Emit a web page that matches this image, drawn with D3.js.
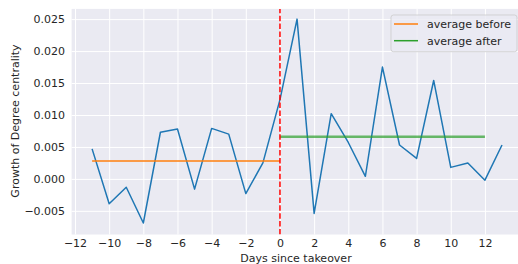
<!DOCTYPE html>
<html>
<head>
<script src="https://cdn.jsdelivr.net/npm/d3@7"></script>
<style>
  body { margin: 0; background: #fff; }
  text { font-family: "DejaVu Sans", sans-serif; fill: #262626; }
</style>
</head>
<body>
<script>
// values
var days = [-11, -10, -9, -8, -7, -6, -5, -4, -3, -2, -1, 0, 1, 2, 3, 4, 5, 6, 7, 8, 9, 10, 11, 12, 13];
var growth = [0.0047, -0.0039, -0.0013, -0.0069, 0.0073, 0.0078, -0.0016, 0.0079, 0.0070, -0.0023, 0.0025,
              0.0124, 0.0250, -0.0054, 0.0102, 0.0057, 0.0004, 0.0175, 0.0053, 0.0032, 0.0154, 0.0018, 0.0025, -0.0002, 0.0053];
var avgBefore = 0.0028;   // drawn from day -11 to 0
var avgAfter = 0.0066;    // drawn from day 0 to 12
var xTicks = [-12, -10, -8, -6, -4, -2, 0, 2, 4, 6, 8, 10, 12];
var yTicks = [-0.005, 0, 0.005, 0.010, 0.015, 0.020, 0.025];

var w = 518, h = 264;
var fs = "11px";
var x = d3.scaleLinear().domain([-12.2, 14.2]).range([71.6, 522.5]);
var y = d3.scaleLinear().domain([-0.0087, 0.0266]).range([234.5, 8.9]);

var svg = d3.select("body").append("svg")
  .attr("width", w)
  .attr("height", h);

svg.append("defs").append("clipPath").attr("id", "clip")
  .append("rect")
  .attr("x", x.range()[0]).attr("y", y.range()[1])
  .attr("width", x.range()[1] - x.range()[0])
  .attr("height", y.range()[0] - y.range()[1]);

svg.append("rect")
  .attr("x", x.range()[0]).attr("y", y.range()[1])
  .attr("width", x.range()[1] - x.range()[0])
  .attr("height", y.range()[0] - y.range()[1])
  .attr("fill", "#eaeaf2");

// grid + tick labels
var xAxis = d3.axisBottom(x).tickValues(xTicks).tickSize(-(y.range()[0] - y.range()[1]))
  .tickFormat(function (d) { return d < 0 ? "\u2212" + (-d) : d; });
var gx = svg.append("g").attr("transform", "translate(0," + y.range()[0] + ")").call(xAxis);
gx.select(".domain").remove();
gx.selectAll("line").attr("stroke", "#fff").attr("stroke-width", 1);
gx.selectAll("text").attr("y", 4.7).attr("font-size", fs).attr("fill", "#262626");

var yAxis = d3.axisLeft(y).tickValues(yTicks).tickSize(-(x.range()[1] - x.range()[0]))
  .tickFormat(function (d) {
    var s = Math.abs(d).toFixed(3);
    return d < -1e-9 ? "\u2212" + s : s;
  });
var gy = svg.append("g").attr("transform", "translate(" + x.range()[0] + ",0)").call(yAxis);
gy.select(".domain").remove();
gy.selectAll("line").attr("stroke", "#fff").attr("stroke-width", 1);
gy.selectAll("text").attr("x", -6.5).attr("font-size", fs).attr("fill", "#262626");

var plot = svg.append("g").attr("clip-path", "url(#clip)");

var line = d3.line()
  .x(function (d, i) { return x(days[i]); })
  .y(function (d) { return y(d); });

plot.append("path")
  .datum(growth)
  .attr("d", line)
  .attr("fill", "none")
  .attr("stroke", "#1f77b4")
  .attr("stroke-width", 1.5)
  .attr("stroke-linejoin", "round");

plot.append("line")
  .attr("x1", x(-11)).attr("x2", x(0))
  .attr("y1", y(avgBefore)).attr("y2", y(avgBefore))
  .attr("stroke", "#ff7f0e").attr("stroke-width", 1.5);

plot.append("line")
  .attr("x1", x(0)).attr("x2", x(12))
  .attr("y1", y(avgAfter)).attr("y2", y(avgAfter))
  .attr("stroke", "#2ca02c").attr("stroke-opacity", 0.7).attr("stroke-width", 2.5);

plot.append("line")
  .attr("x1", x(0)).attr("x2", x(0))
  .attr("y1", y.range()[0]).attr("y2", y.range()[1])
  .attr("stroke", "#ff0000").attr("stroke-width", 1.5)
  .attr("stroke-dasharray", "5.5,2.4");

// legend
var legend = svg.append("g").attr("transform", "translate(391,15)");
legend.append("rect")
  .attr("width", 126).attr("height", 36.7).attr("rx", 2.5)
  .attr("fill", "#eaeaf2").attr("fill-opacity", 0.8)
  .attr("stroke", "#cccccc").attr("stroke-opacity", 0.8);
var items = [
  { label: "average before", color: "#ff7f0e" },
  { label: "average after", color: "#2ca02c" }
];
items.forEach(function (it, i) {
  var yy = 9 + i * 16.7;
  legend.append("line")
    .attr("x1", 3).attr("x2", 27).attr("y1", yy).attr("y2", yy)
    .attr("stroke", it.color).attr("stroke-width", 1.5);
  legend.append("text")
    .attr("x", 36).attr("y", yy + 4)
    .attr("font-size", fs)
    .text(it.label);
});

svg.append("text")
  .attr("x", 296).attr("y", 262)
  .attr("text-anchor", "middle")
  .attr("font-size", fs)
  .text("Days since takeover");

svg.append("text")
  .attr("transform", "translate(19,121) rotate(-90)")
  .attr("text-anchor", "middle")
  .attr("font-size", fs)
  .text("Growth of Degree centrality");
</script>
</body>
</html>
